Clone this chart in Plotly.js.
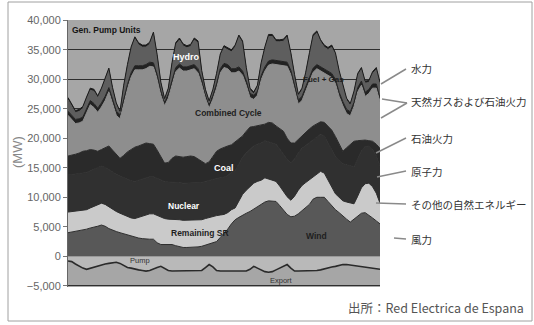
<!DOCTYPE html>
<html>
<head>
<meta charset="utf-8">
<script src="https://cdn.plot.ly/plotly-3.0.1.min.js"></script>
<style>html,body{margin:0;padding:0;background:#fff;}#chart{width:534px;height:325px;}</style>
</head>
<body>
<div id="chart"></div>
<script>
// Hours over one week (2-hour steps)
const hours = [0,2,4,6,8,10,12,14,16,18,20,22,24,26,28,30,32,34,36,38,40,42,44,46,48,50,52,54,56,58,60,62,64,66,68,70,72,74,76,78,80,82,84,86,88,90,92,94,96,98,100,102,104,106,108,110,112,114,116,118,120,122,124,126,128,130,132,134,136,138,140,142,144,146,148,150,152,154,156,158,160,162,164,166,168];

// Generation by source (MW), stacked from bottom
const wind = [4000,4100,4300,4400,4500,4600,4800,4900,5100,5300,5100,4700,4400,4200,4000,3800,3700,3500,3300,3100,3000,2900,2900,2900,2300,2000,2000,2000,2000,1800,1600,1500,1500,1500,1500,1600,1700,1900,2100,2300,2500,3200,3900,4600,5500,6200,6600,7000,7300,7600,8000,8400,8800,9200,9400,9400,9300,8600,7900,7100,6700,6800,7200,7700,8200,8800,9700,10000,10000,10000,9300,8600,7900,7400,6800,6300,5800,6300,6800,7300,7400,7000,6500,6000,5500];
const remainingSR = [3500,3500,3300,3300,3300,3300,3400,3600,3700,3700,3700,3700,3500,3400,3300,3200,3000,3000,3100,3500,3900,4200,4300,4300,4600,4600,4400,4300,4300,4400,4600,4600,4600,4600,4600,4500,4500,4500,4500,4500,4400,3800,3200,2800,2400,2000,2700,3500,3900,4200,4400,4300,4100,4100,3700,3400,3400,3300,3100,3000,2800,3400,4000,4300,4300,4200,3800,4000,4400,4100,3700,3200,2700,2600,2600,2900,3200,2600,3400,4300,4900,5400,5300,4700,3500];
const nuclear = [6300,6300,6300,6300,6300,6300,6300,6300,6300,6300,6300,6300,6300,6300,6300,6300,6300,6300,6300,6300,6300,6300,6300,6300,6300,6300,6300,6300,6300,6300,6300,6300,6300,6300,6300,6300,6300,6300,6300,6300,6300,6300,6300,6300,6300,6300,6300,6300,6300,6300,6300,6300,6300,6300,6300,6300,6300,6300,6300,6300,6300,6300,6300,6300,6300,6300,6300,6300,6300,6300,6300,6300,6300,6300,6300,6300,6300,6300,6300,6300,6300,6300,6300,6300,6300];
const coal = [3200,3200,3400,3500,3700,3700,3600,3200,2700,2800,3300,4000,3800,3400,3000,3800,4700,5300,5800,5800,5800,5800,5600,5500,4800,3900,3100,3300,4000,4500,4400,4400,4500,4600,4500,4100,3600,3000,3100,3800,4600,4900,5100,5000,4700,4900,4300,3600,3700,3800,3300,3100,3000,2800,3300,3500,3100,3400,3900,3600,3400,2700,2300,2200,2200,2300,2300,2200,2100,2300,2700,3300,3400,2800,2100,2900,3700,4300,3100,1800,1100,900,1400,2000,3000];
const combinedCycle = [6900,6100,5200,5100,5100,6400,7600,7200,6600,7200,8000,9200,7800,6600,6700,8800,10700,12300,13100,12900,12600,12600,13100,13100,12100,10500,9700,10900,12700,14300,15000,14600,14500,14600,14900,14600,13100,11100,9100,9700,10700,12900,13500,13100,12200,11700,11500,10300,7800,5000,4600,5200,7700,9000,9700,10000,10400,10700,11000,12200,11600,9000,6000,5900,7100,8200,9100,9300,8600,8300,8700,8900,9000,8000,7700,5800,4800,5900,8300,9300,7400,8000,9000,9500,7900];
const fuelGas = [700,700,700,700,700,700,700,700,700,700,700,700,700,700,700,700,700,700,700,700,700,700,700,700,700,700,700,700,700,700,700,700,700,700,700,700,700,700,700,700,700,700,700,700,700,700,700,700,700,700,700,700,700,700,700,700,700,700,700,700,700,700,700,700,700,700,700,700,700,700,700,700,700,700,700,700,700,700,700,700,700,700,700,700,700];
const hydro = [1950,1550,1150,1250,1450,1650,1750,2050,1750,2150,2750,2950,1750,1050,250,2050,3050,4050,4550,3550,3150,2950,3050,4850,3050,1150,200,650,2450,3850,4050,3550,3250,3250,4150,4350,1250,450,200,650,1450,2150,2650,2550,2850,3650,5050,4750,1950,550,200,650,1850,3050,4150,3950,3150,3350,3550,4250,2650,1550,650,1050,2050,3650,5350,5350,4250,3750,3650,4450,4150,3350,2350,1550,1050,1550,2050,1950,1550,1150,1750,2450,2250];
const genPump = [350,350,350,350,350,350,350,350,350,350,350,350,350,350,350,350,350,350,350,350,350,350,350,350,350,350,350,350,350,350,350,350,350,350,350,350,350,350,350,350,350,350,350,350,350,350,350,350,350,350,350,350,350,350,350,350,350,350,350,350,350,350,350,350,350,350,350,350,350,350,350,350,350,350,350,350,350,350,350,350,350,350,350,350,350];
// Pumping consumption (negative, MW)
const pump = [-800,-900,-1300,-1700,-2000,-2200,-2000,-1800,-1600,-1400,-1300,-1200,-1100,-1000,-1200,-1600,-1900,-2000,-2200,-2300,-2400,-2500,-2400,-2100,-1900,-1700,-2100,-2400,-2500,-2500,-2500,-2500,-2500,-2500,-2500,-2500,-2400,-1900,-1400,-1800,-2400,-2500,-2500,-2500,-2500,-2500,-2500,-2500,-2500,-2200,-1700,-2000,-2300,-2600,-2700,-2600,-2300,-2000,-1700,-1400,-2000,-2500,-2500,-2500,-2500,-2500,-2500,-2400,-2300,-2100,-2000,-1800,-1700,-1500,-1400,-1400,-1500,-1600,-1700,-1700,-1800,-1900,-2000,-2100,-2200];

const yTicks = [-5000,0,5000,10000,15000,20000,25000,30000,35000,40000];
const notesJa = ['水力','天然ガスおよび石油火力','石油火力','原子力','その他の自然エネルギー','風力'];

const series = [
  {name:'Wind', y:wind, fill:'#585858', line:'#2e2e2e'},
  {name:'Remaining SR', y:remainingSR, fill:'#cacaca', line:'#2e2e2e'},
  {name:'Nuclear', y:nuclear, fill:'#303030', line:'#303030'},
  {name:'Coal', y:coal, fill:'#2a2a2a', line:'#2a2a2a'},
  {name:'Combined Cycle', y:combinedCycle, fill:'#8e8e8e', line:'#8e8e8e'},
  {name:'Fuel+Gas', y:fuelGas, fill:'#222222', line:'#222222'},
  {name:'Hydro', y:hydro, fill:'#5e5e5e', line:'#5e5e5e'},
  {name:'Gen. Pump Units', y:genPump, fill:'#1c1c1c', line:'#1c1c1c'}
];
const traces = series.map(s => ({
  type:'scatter', mode:'lines', x:hours, y:s.y, name:s.name,
  stackgroup:'pos', fillcolor:s.fill, line:{color:s.line, width:1}, hoverinfo:'skip'
}));
traces.push({type:'scatter', mode:'lines', x:hours, y:pump, name:'Pump',
  stackgroup:'neg', fillcolor:'#b9b9b9', line:{color:'#2a2a2a', width:1.6}, hoverinfo:'skip'});

// pixel -> paper helpers (plot area 68..380 x 20..287)
const L=68, R=380, T=20, B=287;
const fx = p => (p-L)/(R-L);
const fy = p => (B-p)/(B-T);

const ann = [];
function lab(text, px, py, color, size, anchor, bold){
  ann.push({xref:'paper', yref:'paper', x:fx(px), y:fy(py), text: bold? '<b>'+text+'</b>' : text,
    showarrow:false, xanchor:anchor||'center', yanchor:'middle',
    font:{family:'Liberation Sans, Arial, sans-serif', size:size, color:color}});
}
lab('Gen. Pump Units', 70, 30, '#151515', 8.5, 'left', true);
lab('Hydro', 186, 57, '#ffffff', 9, 'center', true);
lab('Combined Cycle', 228, 113, '#1e1e1e', 8.5, 'center', true);
lab('Fuel + Gas', 323, 79, '#1e1e1e', 8, 'center', true);
lab('Coal', 224, 168, '#ffffff', 9, 'center', true);
lab('Nuclear', 184, 206, '#ffffff', 8.5, 'center', true);
lab('Remaining SR', 200, 233, '#1e1e1e', 8.5, 'center', true);
lab('Wind', 316, 236, '#1e1e1e', 8.5, 'center', true);
lab('Pump', 140, 260, '#333333', 7.5, 'center', false);
lab('Export', 281, 280, '#333333', 7.5, 'center', false);

// Japanese notes on the right
const noteY = [68, 102, 138, 171, 204, 239];
notesJa.forEach((t,i) => ann.push({xref:'paper', yref:'paper', x:fx(409), y:fy(noteY[i]), text:t,
  showarrow:false, xanchor:'left', yanchor:'middle',
  font:{family:'Noto Sans CJK JP, sans-serif', size:10.5, color:'#333'}}));

// y-axis unit
ann.push({xref:'paper', yref:'paper', x:fx(17), y:fy(152), text:'(MW)', textangle:-90, showarrow:false,
  xanchor:'center', yanchor:'middle', font:{family:'Liberation Sans, Arial, sans-serif', size:13, color:'#888'}});
// source
ann.push({xref:'paper', yref:'paper', x:fx(526), y:fy(307), text:'出所：Red Electrica de Espana', showarrow:false,
  xanchor:'right', yanchor:'middle', font:{family:'Noto Sans CJK JP, sans-serif', size:12.5, color:'#555'}});

const shapes = [];
function seg(x0,y0,x1,y1){ shapes.push({type:'line', xref:'paper', yref:'paper', x0:fx(x0), y0:fy(y0), x1:fx(x1), y1:fy(y1), line:{color:'#8a8a8a', width:1.5}}); }
seg(381,84,406,69);
seg(382,99,407,103);
seg(381,118,407,103);
seg(376,153,406,138);
seg(377,177,406,171);
seg(376,203,406,204);
seg(394,238,406,239);
// outer frame
shapes.push({type:'rect', xref:'paper', yref:'paper', x0:fx(8), x1:fx(532), y0:fy(321), y1:fy(2), line:{color:'#a0a0a0', width:1}, layer:'below'});

const layout = {
  width:534, height:325,
  margin:{l:L, r:534-R, t:T, b:325-B, pad:0},
  paper_bgcolor:'#ffffff', plot_bgcolor:'#a6a6a6',
  showlegend:false,
  xaxis:{range:[0,168], showticklabels:false, showgrid:false, zeroline:false, ticks:'', showline:false, fixedrange:true},
  yaxis:{range:[-5200,40050], tickvals:yTicks, tickformat:',', ticks:'outside', ticklen:4, tickcolor:'#777',
    tickfont:{family:'Liberation Sans, Arial, sans-serif', size:11, color:'#666'},
    showgrid:true, gridcolor:'#2e2e2e', gridwidth:1.2, zeroline:false, showline:true, linecolor:'#666', linewidth:1, fixedrange:true},
  annotations:ann, shapes:shapes
};
Plotly.newPlot('chart', traces, layout, {staticPlot:true, displayModeBar:false});
</script>
</body>
</html>
